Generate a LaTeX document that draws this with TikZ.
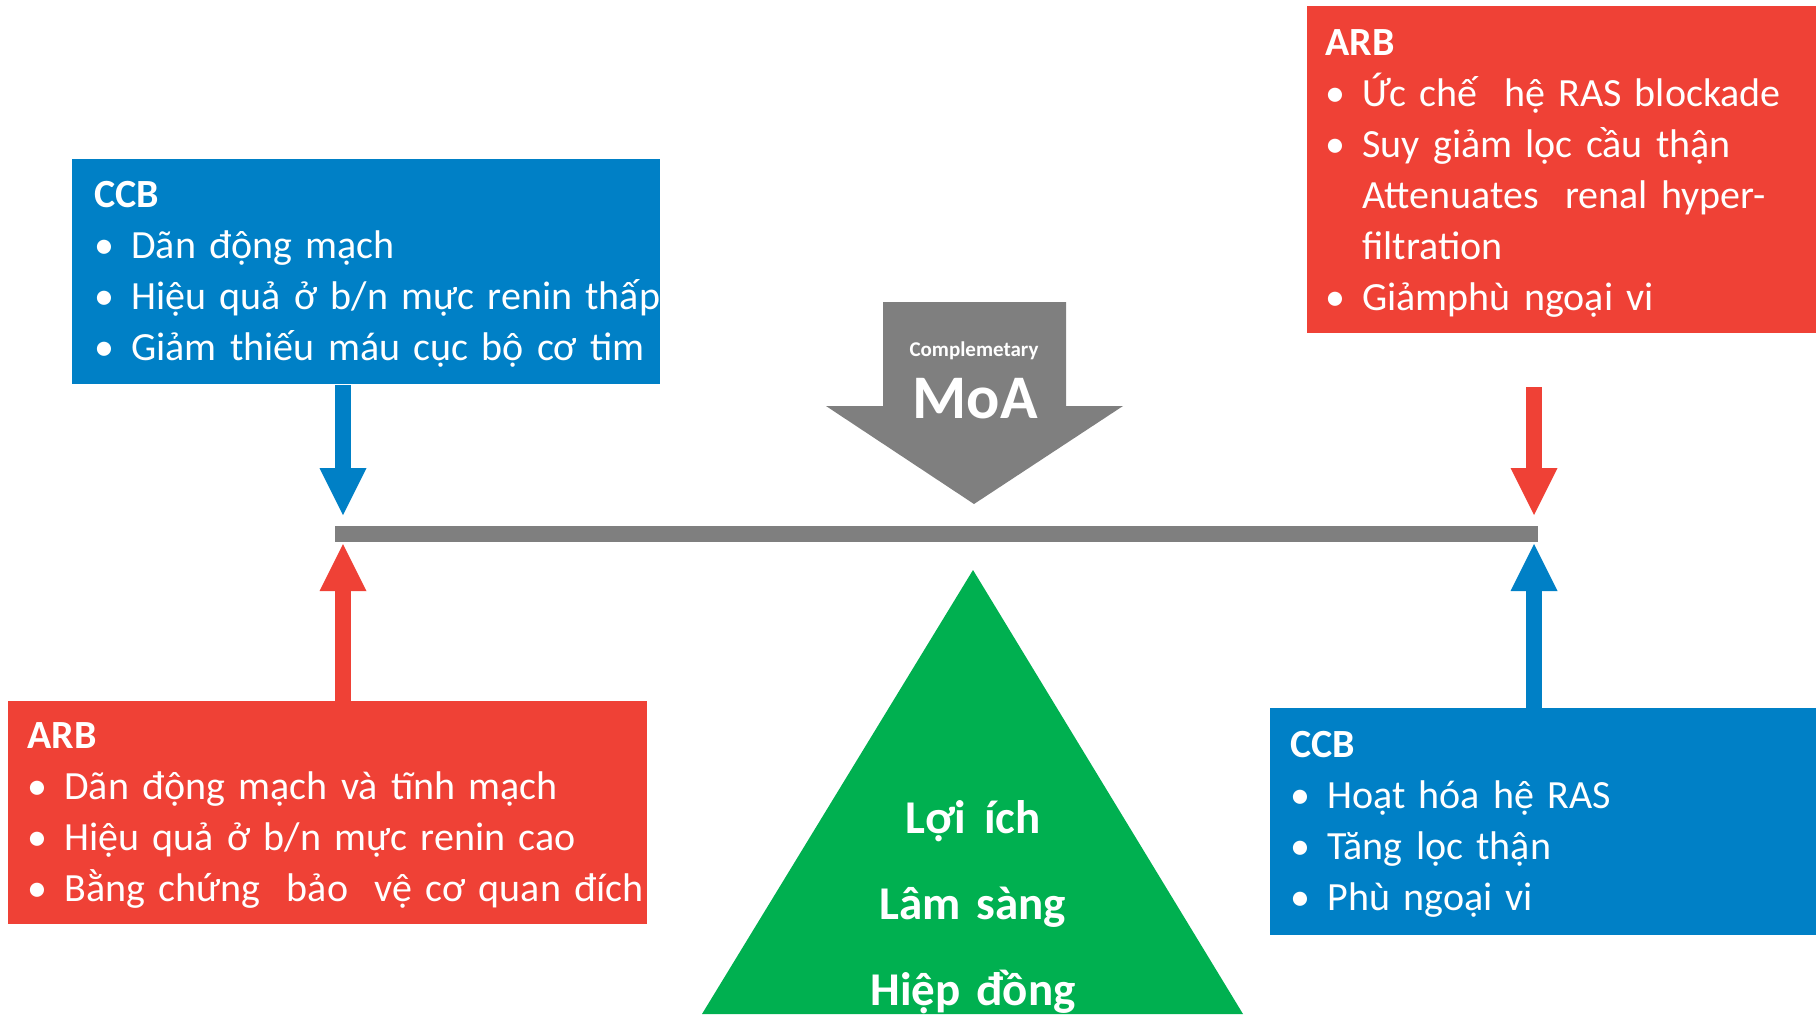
\documentclass[tikz,border=0pt]{standalone}
\usepackage{fontspec}
\setmainfont{Carlito}
\usetikzlibrary{arrows.meta}
\definecolor{ccbblue}{RGB}{0,128,198}
\definecolor{arbred}{RGB}{239,65,54}
\definecolor{fulcrumgreen}{RGB}{0,176,80}
\definecolor{levergray}{RGB}{127,127,127}
\newcommand{\bulitem}{\makebox[18.5pt][l]{•}}
\newcommand{\bulcont}{\hspace*{18.5pt}}

\begin{document}
\begin{tikzpicture}[x=0.5pt, y=-0.5pt,
   ccbbox/.style={fill=ccbblue, inner sep=0, anchor=north west},
   arbbox/.style={fill=arbred, inner sep=0, anchor=north west},
   boxtext/.style={text=white, inner sep=0, anchor=base west, text width=360pt,
                   align=left, font=\fontsize{20pt}{25.5pt}\selectfont},
   blockarrow/.style={line width=8pt, -{Triangle[length=23.5pt, width=23.5pt, line width=0pt]}},
   bluearrow/.style={blockarrow, draw=ccbblue, fill=ccbblue},
   redarrow/.style={blockarrow, draw=arbred, fill=arbred}]

\useasboundingbox (0,0) rectangle (1816,1014);

% the four boxes
\node (ccbL) [ccbbox, minimum width=294pt, minimum height=112.5pt] at (72,159) {};
\node (arbL) [arbbox, minimum width=319.5pt, minimum height=111.5pt] at (8,701) {};
\node (arbR) [arbbox, minimum width=254.5pt, minimum height=163.5pt] at (1307,6) {};
\node (ccbR) [ccbbox, minimum width=273pt, minimum height=113.5pt] at (1270,708) {};

\node (ccbLtxt) [boxtext] at (94,207) {\textbf{CCB}\\
    \bulitem Dãn động mạch\\
    \bulitem Hiệu quả ở b/n mực renin thấp\\
    \bulitem Giảm thiếu máu cục bộ cơ tim};
\node (arbLtxt) [boxtext] at (27,748) {\textbf{ARB}\\
    \bulitem Dãn động mạch và tĩnh mạch\\
    \bulitem Hiệu quả ở b/n mực renin cao\\
    \bulitem Bằng chứng\ \ bảo\ \ vệ cơ quan đích};
\node (arbRtxt) [boxtext] at (1325,55) {\textbf{ARB}\\
    \bulitem Ức chế\ \ hệ RAS blockade\\
    \bulitem Suy giảm lọc cầu thận\\
    \bulcont Attenuates\ \ renal hyper-\\
    \bulcont filtration\\
    \bulitem Giảmphù ngoại vi};
\node (ccbRtxt) [boxtext] at (1290,757) {\textbf{CCB}\\
    \bulitem Hoạt hóa hệ RAS\\
    \bulitem Tăng lọc thận\\
    \bulitem Phù ngoại vi};

% lever
\node (bar) [fill=levergray, inner sep=0, minimum width=601.5pt, minimum height=8pt] at (936.5,534) {};

% arrows onto the lever
\coordinate (tipLt) at (343,515);
\coordinate (tipLb) at (343,544);
\coordinate (tipRt) at (1534,515);
\coordinate (tipRb) at (1534,544);
\coordinate (startR) at (1534,387);
\draw[bluearrow] (ccbL.south -| tipLt) -- (tipLt);
\draw[redarrow] (arbL.north -| tipLb) -- (tipLb);
\draw[redarrow] (startR) -- (tipRt);
\draw[bluearrow] (ccbR.north -| tipRb) -- (tipRb);

% MoA block arrow
\fill[levergray] (883,302) -- (1066,302) -- (1066,406) -- (1123,406) -- (974,504)
    -- (826,406) -- (883,406) -- cycle;
\node (moaSub) [text=white, inner sep=0, anchor=base, font=\bfseries\fontsize{10.5pt}{12pt}\selectfont]
    at (974,356) {Complemetary};
\node (moa) [text=white, inner sep=0, anchor=base, font=\bfseries\fontsize{31pt}{36pt}\selectfont]
    at (975,418) {MoA};

% fulcrum
\fill[fulcrumgreen] (973,570) -- (1243,1014) -- (702,1014) -- cycle;
\node (triTxt) [text=white, inner sep=0, anchor=base, text width=160pt, align=center,
    font=\bfseries\fontsize{23.5pt}{43pt}\selectfont] at (973,833)
    {Lợi\hspace{9pt}ích\hspace*{6pt}\\Lâm sàng\\Hiệp đồng};

\end{tikzpicture}
\end{document}
